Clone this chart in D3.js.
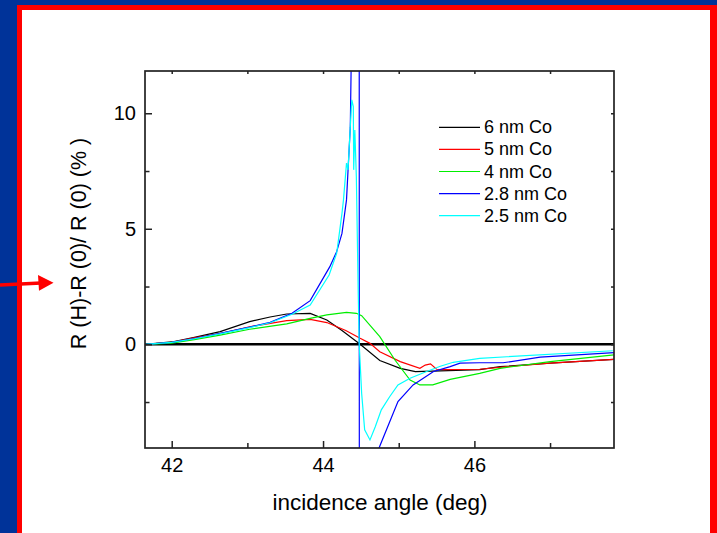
<!DOCTYPE html>
<html>
<head>
<meta charset="utf-8">
<script src="https://cdn.jsdelivr.net/npm/d3@7"></script>
<style>
  body { margin: 0; padding: 0; overflow: hidden; }
  text { font-family: "Liberation Sans", Arial, sans-serif; fill: #000; }
</style>
</head>
<body>
<div id="chart"></div>
<script>
// data: incidence angle (deg) vs R(H)-R(0)/R(0) (%)
const angle6 = [41.65, 42.0, 42.3, 42.64, 43.03, 43.3, 43.52, 43.83, 44.05, 44.25, 44.49, 44.75, 45.02, 45.22, 45.55, 46.07, 46.34, 47.0, 47.85];
const refl6  = [0, 0.1, 0.3, 0.55, 0.98, 1.18, 1.31, 1.34, 1.05, 0.6, 0, -0.7, -1.04, -1.18, -1.15, -1.1, -0.97, -0.82, -0.65];

const angle5 = [41.65, 42.0, 42.3, 42.64, 43.03, 43.52, 43.83, 44.05, 44.3, 44.49, 44.62, 44.75, 45.02, 45.28, 45.35, 45.42, 45.5, 45.6, 46.07, 46.5, 47.0, 47.85];
const refl5  = [0, 0.08, 0.28, 0.46, 0.76, 1.02, 1.08, 0.94, 0.6, 0.26, 0.04, -0.32, -0.75, -1.04, -0.9, -0.85, -1.08, -1.1, -1.08, -0.95, -0.82, -0.65];

const angle4 = [41.65, 42.0, 42.3, 42.64, 43.03, 43.52, 43.83, 44.05, 44.31, 44.44, 44.51, 44.75, 44.95, 45.15, 45.28, 45.45, 45.68, 46.07, 46.34, 47.0, 47.85];
const refl4  = [0, 0.05, 0.2, 0.4, 0.65, 0.88, 1.12, 1.27, 1.38, 1.34, 1.24, 0.33, -0.68, -1.55, -1.76, -1.76, -1.52, -1.26, -1.04, -0.75, -0.46];

const angle28 = [41.65, 42.0, 42.3, 42.64, 43.03, 43.3, 43.59, 43.83, 44.09, 44.18, 44.25, 44.31, 44.36, 44.38, 44.478, 44.48, 44.74, 44.99, 45.19, 45.46, 45.68, 45.81, 46.07, 46.38, 46.87, 47.85];
const refl28  = [0, 0.08, 0.25, 0.47, 0.74, 0.95, 1.34, 1.89, 3.36, 4.01, 4.8, 6.25, 9.4, 14, 14, -14, -4.49, -2.48, -1.76, -1.18, -0.97, -0.82, -0.8, -0.8, -0.56, -0.36];

const angle25 = [41.65, 42.0, 42.3, 42.64, 43.03, 43.3, 43.59, 43.83, 44.08, 44.18, 44.25, 44.27, 44.31, 44.33, 44.36, 44.38, 44.40, 44.405, 44.42, 44.44, 44.465, 44.478, 44.51, 44.55, 44.62, 44.69, 44.77, 44.88, 44.99, 45.15, 45.37, 45.55, 45.72, 46.07, 46.43, 47.83];
const refl25  = [0, 0.08, 0.24, 0.45, 0.72, 0.93, 1.3, 1.7, 3.0, 3.94, 5.67, 6.25, 7.84, 7.55, 9.42, 10.58, 10.29, 7.55, 9.28, 7.26, 2.2, 0, -2.12, -3.7, -4.14, -3.57, -2.84, -2.27, -1.76, -1.47, -1.18, -0.95, -0.78, -0.61, -0.54, -0.28];

const seriesNames = ["6 nm Co", "5 nm Co", "4 nm Co", "2.8 nm Co", "2.5 nm Co"];
const seriesColors = ["#000000", "#ff0000", "#00ee00", "#0000ff", "#00ffff"];
const xMajor = [42, 44, 46];
const xMinor = [43, 45, 47];
const yMajor = [0, 5, 10];
const yMinor = [-2.5, 2.5, 7.5];

const allSeries = [
  {x: angle6, y: refl6},
  {x: angle5, y: refl5},
  {x: angle4, y: refl4},
  {x: angle28, y: refl28},
  {x: angle25, y: refl25}
];

var svgWidth = 717;
var svgHeight = 533;
var margin = {top: 71, right: 103, bottom: 85, left: 145};
var width = svgWidth - margin.left - margin.right;   // 469
var height = svgHeight - margin.top - margin.bottom; // 377

var svg = d3.select("#chart").append("svg")
  .attr("width", svgWidth)
  .attr("height", svgHeight);

// slide background: blue, red frame, white panel
svg.append("rect").attr("width", svgWidth).attr("height", svgHeight).attr("fill", "#003399");
svg.append("rect").attr("x", 17).attr("y", 5).attr("width", 700).attr("height", 540).attr("fill", "#ff0000");
svg.append("rect").attr("x", 22).attr("y", 10).attr("width", 688).attr("height", 540).attr("fill", "#ffffff");

// red arrow on the left
svg.append("line")
  .attr("x1", 0).attr("y1", 285).attr("x2", 41).attr("y2", 283)
  .attr("stroke", "#ff0000").attr("stroke-width", 3.5);
svg.append("path")
  .attr("d", "M38,275 L53.5,282.7 L39,290.7 Z")
  .attr("fill", "#ff0000");

var chartGroup = svg.append("g")
  .attr("transform", `translate(${margin.left}, ${margin.top})`);

var xScale = d3.scaleLinear().domain([41.647, 47.845]).range([0, width]);
var yScale = d3.scaleLinear().domain([-4.49, 11.83]).range([height, 0]);

chartGroup.append("clipPath").attr("id", "plotclip")
  .append("rect").attr("width", width).attr("height", height);

// zero line
chartGroup.append("line")
  .attr("x1", 0).attr("x2", width)
  .attr("y1", yScale(0)).attr("y2", yScale(0))
  .attr("stroke", "#000").attr("stroke-width", 2.6);

// curves
var line = d3.line()
  .x(d => xScale(d[0]))
  .y(d => yScale(d[1]));

chartGroup.append("g").attr("clip-path", "url(#plotclip)")
  .selectAll("path")
  .data(allSeries)
  .enter()
  .append("path")
  .attr("d", s => line(d3.zip(s.x, s.y)))
  .attr("fill", "none")
  .attr("stroke", (s, i) => seriesColors[i])
  .attr("stroke-width", 1.2);

// axes, ticks pointing inward
function styleAxis(g) {
  g.select(".domain").remove();
  g.selectAll(".tick line").attr("stroke", "#222").attr("stroke-width", 1.5);
  g.selectAll(".tick text").attr("font-size", "20px").attr("fill", "#000")
    .attr("font-family", "Liberation Sans, Arial, sans-serif");
}

chartGroup.append("g")
  .attr("transform", `translate(0, ${height})`)
  .call(d3.axisBottom(xScale).tickValues(xMajor).tickFormat(d3.format("d")).tickSize(-7).tickPadding(10))
  .call(styleAxis);
chartGroup.append("g")
  .attr("transform", `translate(0, ${height})`)
  .call(d3.axisBottom(xScale).tickValues(xMinor).tickFormat("").tickSize(-5))
  .call(styleAxis);
chartGroup.append("g")
  .call(d3.axisTop(xScale).tickValues(xMajor.concat(xMinor)).tickFormat("").tickSize(-3))
  .call(styleAxis);

chartGroup.append("g")
  .call(d3.axisLeft(yScale).tickValues(yMajor).tickFormat(d3.format("d")).tickSize(-7).tickPadding(9))
  .call(styleAxis);
chartGroup.append("g")
  .call(d3.axisLeft(yScale).tickValues(yMinor).tickFormat("").tickSize(-4.5))
  .call(styleAxis);
chartGroup.append("g")
  .attr("transform", `translate(${width}, 0)`)
  .call(d3.axisRight(yScale).tickValues(yMajor.concat(yMinor)).tickFormat("").tickSize(-3))
  .call(styleAxis);

// frame
chartGroup.append("rect")
  .attr("width", width).attr("height", height)
  .attr("fill", "none").attr("stroke", "#222").attr("stroke-width", 1.7);

// axis labels
svg.append("text")
  .attr("text-anchor", "middle")
  .attr("transform", "translate(86, 243.5) rotate(-90)")
  .attr("font-size", "21.5px")
  .text("R (H)-R (0)/ R (0) (% )");

svg.append("text")
  .attr("text-anchor", "middle")
  .attr("x", 380).attr("y", 510)
  .attr("font-size", "22.5px")
  .text("incidence angle (deg)");

// legend
var legend = svg.append("g").attr("transform", "translate(439, 127.3)");
var rows = legend.selectAll("g")
  .data(seriesNames)
  .enter()
  .append("g")
  .attr("transform", (d, i) => `translate(0, ${i * 22.1})`);
rows.append("line")
  .attr("x1", 0).attr("x2", 41).attr("y1", 0).attr("y2", 0)
  .attr("stroke", (d, i) => seriesColors[i]).attr("stroke-width", 1.2);
rows.append("text")
  .attr("x", 45).attr("y", 6)
  .attr("font-size", "18px")
  .text(d => d);
</script>
</body>
</html>
